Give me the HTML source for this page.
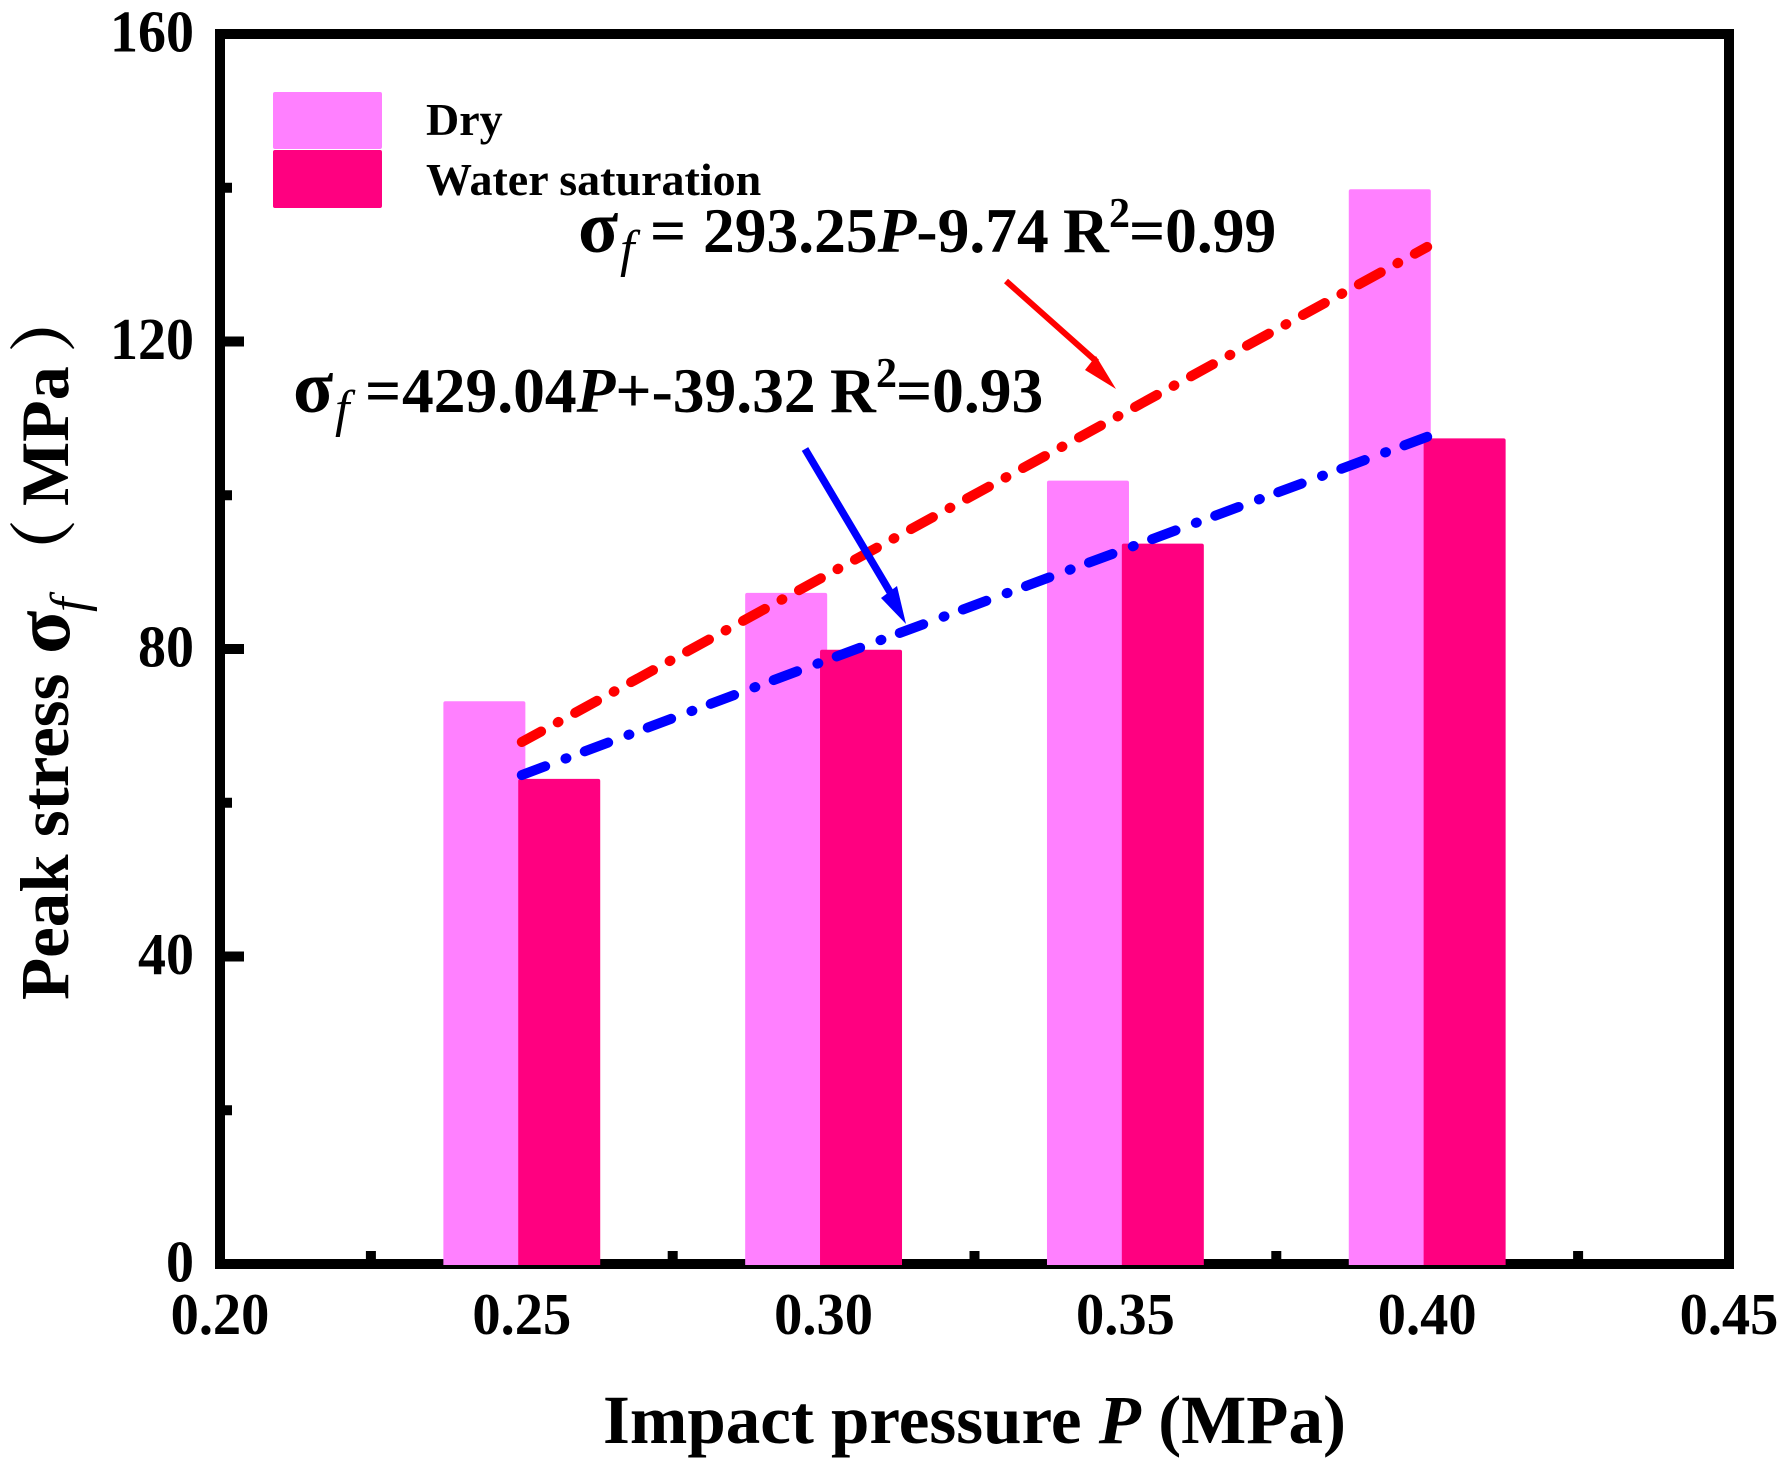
<!DOCTYPE html>
<html>
<head>
<meta charset="utf-8">
<title>Peak stress vs impact pressure</title>
<style>
html,body{margin:0;padding:0;background:#fff;width:1792px;height:1477px;overflow:hidden}
svg{display:block}
text{font-family:"Liberation Serif","Noto Serif CJK SC",serif;font-weight:bold;fill:#000}
.it{font-style:italic}
.sub{font-style:italic;font-weight:normal}
</style>
</head>
<body>
<svg id="chart" width="1792" height="1477" viewBox="0 0 1792 1477" xmlns="http://www.w3.org/2000/svg">
  <rect x="220" y="34" width="1509" height="1230" fill="#fff" stroke="#000" stroke-width="10"/>
  <g id="ticks"></g>
  <g id="bars"></g>
  <g id="fits"></g>

  <g>
    <line x1="1006" y1="281" x2="1097" y2="362" stroke="#f00" stroke-width="6"/>
    <polygon points="1116,389 1096,356 1085,370" fill="#f00"/>
  </g>
  <g>
    <line x1="805" y1="449" x2="890" y2="592" stroke="#00f" stroke-width="7.5"/>
    <polygon points="906,624 897,586 881,598" fill="#00f"/>
  </g>

  <g>
    <rect x="273" y="92" width="109" height="57" rx="2" fill="#ff80ff"/>
    <rect x="273" y="150" width="109" height="58" rx="2" fill="#ff0080"/>
    <text x="426" y="135" font-size="46">Dry</text>
    <text x="426" y="195" font-size="46">Water saturation</text>
  </g>

  <g>
    <text x="578" y="252" font-size="74">σ</text>
    <text class="sub" x="620" y="266" font-size="52">f</text>
    <text x="650" y="252" font-size="63.5">=</text>
    <text x="703" y="252" font-size="63.5">293.25<tspan class="it">P</tspan>-9.74</text>
    <text x="1063" y="252" font-size="63.5">R</text>
    <text x="1109" y="227" font-size="42">2</text>
    <text x="1129" y="252" font-size="63.5">=0.99</text>
  </g>
  <g>
    <text x="293" y="412" font-size="74">σ</text>
    <text class="sub" x="335" y="426" font-size="52">f</text>
    <text x="365" y="412" font-size="63.5">=</text>
    <text x="402" y="412" font-size="63.5">429.04<tspan class="it">P</tspan>+-39.32</text>
    <text x="830" y="412" font-size="63.5">R</text>
    <text x="876" y="387" font-size="42">2</text>
    <text x="896" y="412" font-size="63.5">=0.93</text>
  </g>

  <text x="603" y="1443" font-size="69">Impact pressure <tspan class="it">P</tspan> (MPa)</text>

  <g>
    <text transform="translate(68,1000) rotate(-90)" font-size="69">Peak stress</text>
    <text transform="translate(69,654) rotate(-90)" font-size="80">σ</text>
    <text class="sub" transform="translate(86,612) rotate(-90)" font-size="52">f</text>
    <text transform="translate(68,587) rotate(-90)" font-size="68">（</text>
    <text transform="translate(68,506) rotate(-90)" font-size="68">MPa</text>
    <text transform="translate(68,353) rotate(-90)" font-size="68">）</text>
  </g>
</svg>
<script>
// Chart data
const pressures = [0.25, 0.30, 0.35, 0.40];
const dryValues = [73.2, 87.3, 101.9, 139.8];
const waterValues = [63.1, 79.9, 93.7, 107.4];
const redFitValues = [67.9, 89.4, 110.8, 132.3];
const blueFitValues = [63.6, 78.4, 93.0, 107.6];
const xTickLabels = ['0.20', '0.25', '0.30', '0.35', '0.40', '0.45'];
const yTickLabels = ['0', '40', '80', '120', '160'];
const xMinorTicks = [0.225, 0.275, 0.325, 0.375, 0.425];
const yMinorTicks = [20, 60, 100, 140];

const NS = 'http://www.w3.org/2000/svg';
const xScale = function (p) { return 220 + (p - 0.20) / 0.25 * 1509; };
const yScale = function (v) { return 1264 - v / 160 * 1230; };
const barOffset = 0.0062;
const barWidth = 82;
const ticksG = document.getElementById('ticks');
const barsG = document.getElementById('bars');
const fitsG = document.getElementById('fits');
const svg = document.getElementById('chart');

function make(tag, attrs, parent) {
  const el = document.createElementNS(NS, tag);
  for (const k in attrs) el.setAttribute(k, attrs[k]);
  parent.appendChild(el);
  return el;
}

xTickLabels.forEach(function (label) {
  const p = parseFloat(label);
  const t = make('rect', { x: xScale(p) - 5, y: 1240, width: 10, height: 20, fill: '#000' }, ticksG);
  
  
  const s = make('text', { transform: 'translate(' + xScale(p) + ',1334) scale(1,1.05)', 'font-size': 56.5, 'text-anchor': 'middle' }, svg);
  s.textContent = label;
  
  
});
xMinorTicks.forEach(function (p) {
  const t = make('rect', { x: xScale(p) - 5, y: 1251, width: 10, height: 9, fill: '#000' }, ticksG);
  
  
});
yTickLabels.forEach(function (label) {
  const v = parseFloat(label);
  const t = make('rect', { x: 224, y: yScale(v) - 5, width: 20, height: 10, fill: '#000' }, ticksG);
  
  
  const s = make('text', { transform: 'translate(194,' + (yScale(v) + 17.5) + ') scale(1,1.05)', 'font-size': 56, 'text-anchor': 'end' }, svg);
  s.textContent = label;
  
  
});
yMinorTicks.forEach(function (v) {
  const t = make('rect', { x: 224, y: yScale(v) - 5, width: 8, height: 10, fill: '#000' }, ticksG);
  
  
});

pressures.forEach(function (p, i) {
  const cx = xScale(p - barOffset);
  const top = yScale(dryValues[i]);
  const b = make('path', {
    d: 'M' + (cx - barWidth / 2) + ' ' + (yScale(0) + 1) + 'V' + (top + 2) + 'q0 -2 2 -2H' + (cx + barWidth / 2 - 2) + 'q2 0 2 2V' + (yScale(0) + 1) + 'Z',
    fill: '#ff80ff'
  }, barsG);
  
  
});
pressures.forEach(function (p, i) {
  const cx = xScale(p + barOffset);
  const top = yScale(waterValues[i]);
  const b = make('path', {
    d: 'M' + (cx - barWidth / 2) + ' ' + (yScale(0) + 1) + 'V' + (top + 2) + 'q0 -2 2 -2H' + (cx + barWidth / 2 - 2) + 'q2 0 2 2V' + (yScale(0) + 1) + 'Z',
    fill: '#ff0080'
  }, barsG);
  
  
});

function pointsFor(vals) {
  return vals.map(function (v, i) { return xScale(pressures[i]) + ',' + yScale(v); }).join(' ');
}
const redLine = make('polyline', {
  points: pointsFor(redFitValues), fill: 'none', stroke: '#f00', 'stroke-width': 10,
  'stroke-linecap': 'round', 'stroke-dasharray': '25 18.9 1 18.9', 'stroke-dashoffset': 3
}, fitsG);


const blueLine = make('polyline', {
  points: pointsFor(blueFitValues), fill: 'none', stroke: '#00f', 'stroke-width': 10,
  'stroke-linecap': 'round', 'stroke-dasharray': '25 21.7 1 19.6'
}, fitsG);


</script>
</body>
</html>
